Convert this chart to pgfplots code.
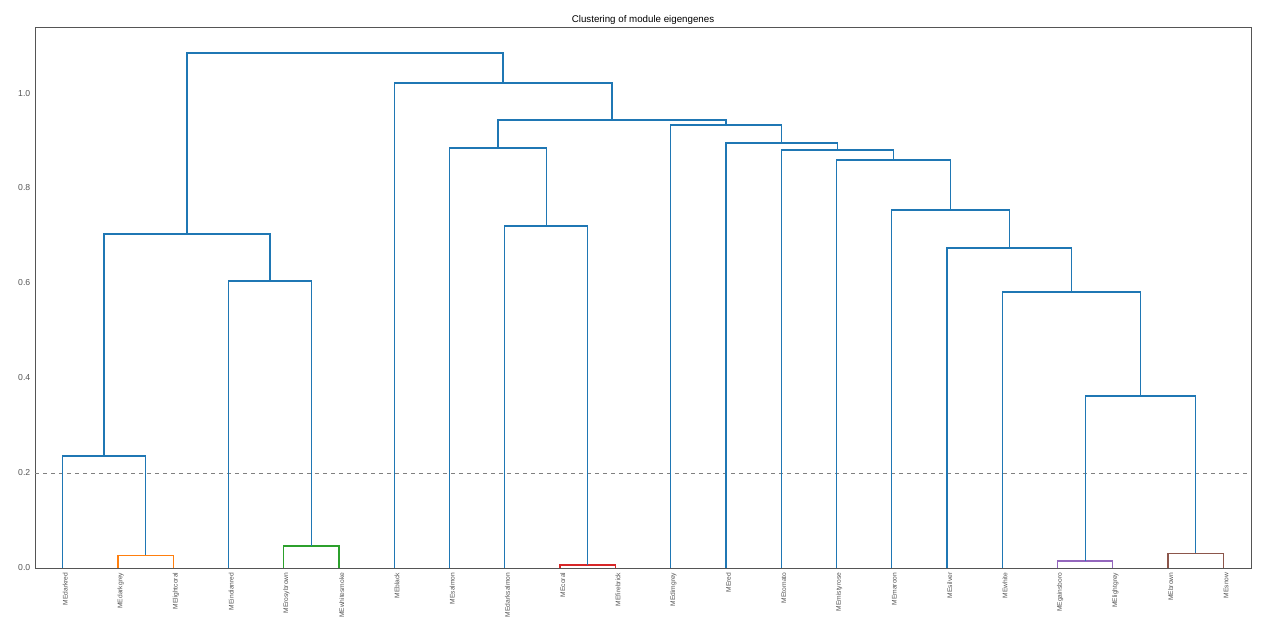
\documentclass[border=0pt]{standalone}
\usepackage{pgfplots}
\pgfplotsset{compat=1.18}
\usepackage{fontspec}
\setmainfont{Liberation Sans}
\definecolor{c0}{HTML}{1F77B4}
\definecolor{c1}{HTML}{FF7F0E}
\definecolor{c2}{HTML}{2CA02C}
\definecolor{c3}{HTML}{D62728}
\definecolor{c4}{HTML}{9467BD}
\definecolor{c5}{HTML}{8C564B}
\definecolor{frame}{HTML}{555555}
\begin{document}
\begin{tikzpicture}
\useasboundingbox (0,0) rectangle (964.5pt,480pt);
\begin{axis}[
  at={(26.25pt,54pt)}, anchor=south west,
  scale only axis, width=912pt, height=405.75pt,
  xmin=0, xmax=220, ymin=0, ymax=1.139,
  axis line style={frame, line width=0.6pt},
  major tick length=0pt,
  /pgf/number format/assume math mode=true,
  ytick={0,0.2,0.4,0.6,0.8,1.0},
  yticklabel style={font=\fontsize{6.5}{7}\selectfont, text=frame, /pgf/number format/.cd, fixed, fixed zerofill, precision=1},
  xtick={5,15,25,35,45,55,65,75,85,95,105,115,125,135,145,155,165,175,185,195,205,215},
  xticklabels={MEdarkred,MEdarkgrey,MElightcoral,MEindianred,MErosybrown,MEwhitesmoke,MEblack,MEsalmon,MEdarksalmon,MEcoral,MEfirebrick,MEdimgrey,MEred,MEtomato,MEmistyrose,MEmaroon,MEsilver,MEwhite,MEgainsboro,MElightgrey,MEbrown,MEsnow},
  xticklabel style={rotate=90, anchor=east, font=\fontsize{5}{6}\selectfont, text=frame, yshift=-2pt},
  title={Clustering of module eigengenes},
  title style={font=\fontsize{7.3}{8}\selectfont, at={(0.5,1)}, anchor=south, yshift=-8pt},
  every axis plot/.append style={line width=1pt, line join=miter},
]
\addplot[gray, dashed, line width=0.7pt] coordinates {(0,0.2) (220,0.2)};
\addplot[c1] coordinates {(15,0) (15,0.027) (25,0.027) (25,0)};
\addplot[c0] coordinates {(5,0) (5,0.236) (20,0.236) (20,0.027)};
\addplot[c2] coordinates {(45,0) (45,0.046) (55,0.046) (55,0)};
\addplot[c0] coordinates {(35,0) (35,0.604) (50,0.604) (50,0.046)};
\addplot[c0] coordinates {(12.5,0.236) (12.5,0.703) (42.5,0.703) (42.5,0.604)};
\addplot[c3] coordinates {(95,0) (95,0.006) (105,0.006) (105,0)};
\addplot[c0] coordinates {(85,0) (85,0.72) (100,0.72) (100,0.006)};
\addplot[c0] coordinates {(75,0) (75,0.884) (92.5,0.884) (92.5,0.72)};
\addplot[c4] coordinates {(185,0) (185,0.015) (195,0.015) (195,0)};
\addplot[c5] coordinates {(205,0) (205,0.031) (215,0.031) (215,0)};
\addplot[c0] coordinates {(190,0.015) (190,0.362) (210,0.362) (210,0.031)};
\addplot[c0] coordinates {(175,0) (175,0.581) (200,0.581) (200,0.362)};
\addplot[c0] coordinates {(165,0) (165,0.674) (187.5,0.674) (187.5,0.581)};
\addplot[c0] coordinates {(155,0) (155,0.754) (176.25,0.754) (176.25,0.674)};
\addplot[c0] coordinates {(145,0) (145,0.859) (165.625,0.859) (165.625,0.754)};
\addplot[c0] coordinates {(135,0) (135,0.880) (155.3125,0.880) (155.3125,0.859)};
\addplot[c0] coordinates {(125,0) (125,0.895) (145.156,0.895) (145.156,0.880)};
\addplot[c0] coordinates {(115,0) (115,0.933) (135.078,0.933) (135.078,0.895)};
\addplot[c0] coordinates {(83.75,0.884) (83.75,0.943) (125.039,0.943) (125.039,0.933)};
\addplot[c0] coordinates {(65,0) (65,1.021) (104.395,1.021) (104.395,0.943)};
\addplot[c0] coordinates {(27.5,0.703) (27.5,1.084) (84.697,1.084) (84.697,1.021)};
\end{axis}
\end{tikzpicture}
\end{document}
